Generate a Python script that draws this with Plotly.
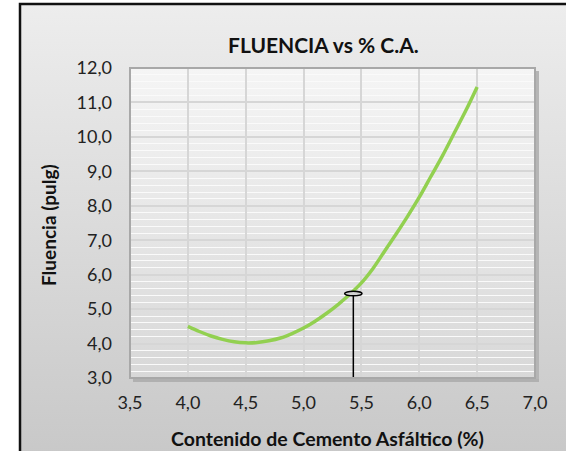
import base64
import plotly.graph_objects as go

# ---- data ----
ca_pct = [4.0, 4.1, 4.2, 4.3, 4.4, 4.5, 4.6, 4.7, 4.8, 4.9, 5.0, 5.1, 5.2, 5.3,
          5.4, 5.5, 5.6, 5.7, 5.8, 5.9, 6.0, 6.1, 6.2, 6.3, 6.4, 6.5]
fluencia = [4.50, 4.35, 4.22, 4.12, 4.05, 4.02, 4.03, 4.08, 4.16, 4.29, 4.45, 4.65,
            4.88, 5.14, 5.43, 5.76, 6.18, 6.68, 7.18, 7.70, 8.25, 8.85, 9.45,
            10.10, 10.75, 11.45]
opt_x = 5.43
opt_y = 5.45
x_ticks = [3.5, 4.0, 4.5, 5.0, 5.5, 6.0, 6.5, 7.0]
y_ticks = [3, 4, 5, 6, 7, 8, 9, 10, 11, 12]

W, H = 566, 451
L, R, T, B = 130, 31, 68, 73
PW, PH = W - L - R, H - T - B


def px_x(p):
    return (p - L) / PW


def px_y(p):
    return (H - B - p) / PH


def grad(c1, c2):
    svg = ('<svg xmlns="http://www.w3.org/2000/svg" width="100" height="100" '
           'viewBox="0 0 100 100" preserveAspectRatio="none"><defs>'
           '<linearGradient id="g" x1="0" y1="0" x2="0" y2="1">'
           f'<stop offset="0" stop-color="{c1}"/><stop offset="1" stop-color="{c2}"/>'
           '</linearGradient></defs><rect width="100" height="100" fill="url(#g)"/></svg>')
    return "data:image/svg+xml;base64," + base64.b64encode(svg.encode()).decode()


fig = go.Figure()
fig.add_trace(go.Scatter(x=ca_pct, y=fluencia, mode="lines",
                         line=dict(color="#92d050", width=3.5, shape="spline"),
                         hoverinfo="skip", showlegend=False))
fig.add_trace(go.Scatter(x=[opt_x, opt_x], y=[opt_y, min(y_ticks)], mode="lines",
                         line=dict(color="black", width=1.5),
                         hoverinfo="skip", showlegend=False))

fig.add_shape(type="circle", xref="x", yref="y",
              x0=opt_x - 0.075, x1=opt_x + 0.075, y0=opt_y - 0.065, y1=opt_y + 0.065,
              line=dict(color="black", width=1.5), fillcolor="#d0d0d0")

# chart box background & border
fig.add_layout_image(source=grad("#ededed", "#c3c3c3"), xref="paper", yref="paper",
                     x=px_x(20), y=px_y(4), sizex=(640 - 20) / PW, sizey=(520 - 4) / PH,
                     xanchor="left", yanchor="top", sizing="stretch", layer="below")
fig.add_layout_image(source=grad("#f5f5f5", "#d8d8d8"), xref="paper", yref="paper",
                     x=0, y=1, sizex=1, sizey=1,
                     xanchor="left", yanchor="top", sizing="stretch", layer="below")
fig.add_shape(type="rect", xref="paper", yref="paper",
              x0=px_x(20), x1=px_x(640), y0=px_y(520), y1=px_y(4),
              line=dict(color="#111111", width=2.5), fillcolor="rgba(0,0,0,0)")
# plot area shadow and border
fig.add_shape(type="line", xref="paper", yref="paper", x0=px_x(537.5), x1=px_x(537.5),
              y0=px_y(380), y1=px_y(71), line=dict(color="#b5b5b5", width=3))
fig.add_shape(type="line", xref="paper", yref="paper", x0=px_x(133), x1=px_x(539),
              y0=px_y(380.5), y1=px_y(380.5), line=dict(color="#b0b0b0", width=3))
fig.add_shape(type="rect", xref="paper", yref="paper", x0=0, x1=1, y0=0, y1=1,
              line=dict(color="#a8a8a8", width=2), fillcolor="rgba(0,0,0,0)")

font = "Lato, 'Open Sans', sans-serif"
fig.add_annotation(text="<b>FLUENCIA vs % C.A.</b>", xref="paper", yref="paper",
                   x=px_x(323), y=px_y(45), showarrow=False,
                   xanchor="center", yanchor="middle",
                   font=dict(family=font, size=21, color="#111111"))
fig.add_annotation(text="<b>Fluencia (pulg)</b>", xref="paper", yref="paper",
                   x=px_x(48), y=px_y(225), showarrow=False, textangle=-90,
                   xanchor="center", yanchor="middle",
                   font=dict(family=font, size=19, color="#111111"))
fig.add_annotation(text="<b>Contenido de Cemento Asfáltico (%)</b>", xref="paper",
                   yref="paper", x=px_x(327), y=px_y(438), showarrow=False,
                   xanchor="center", yanchor="middle",
                   font=dict(family=font, size=19.5, color="#111111"))

fig.update_xaxes(range=[3.5, 7.0], tickvals=x_ticks, tickformat=".1f",
                 showgrid=True, gridcolor="#d6d6d6", gridwidth=1.5,
                 zeroline=False, showline=False, ticks="", ticklabelstandoff=12,
                 tickfont=dict(family=font, size=18, color="#222222"))
fig.update_yaxes(range=[3, 12], tickvals=y_ticks, tickformat=".1f",
                 showgrid=True, gridcolor="#d6d6d6", gridwidth=1.5,
                 minor=dict(dtick=0.2, showgrid=True, gridcolor="#fafafa", gridwidth=1),
                 zeroline=False, showline=False, ticks="", ticklabelstandoff=17,
                 tickfont=dict(family=font, size=18, color="#222222"))

fig.update_layout(width=W, height=H, margin=dict(l=L, r=R, t=T, b=B),
                  paper_bgcolor="white", plot_bgcolor="rgba(0,0,0,0)",
                  separators=",.", showlegend=False)

fig.write_html("out.html", config={"displayModeBar": False},
               post_script="document.body.style.margin='0';document.body.style.overflow='hidden';")
